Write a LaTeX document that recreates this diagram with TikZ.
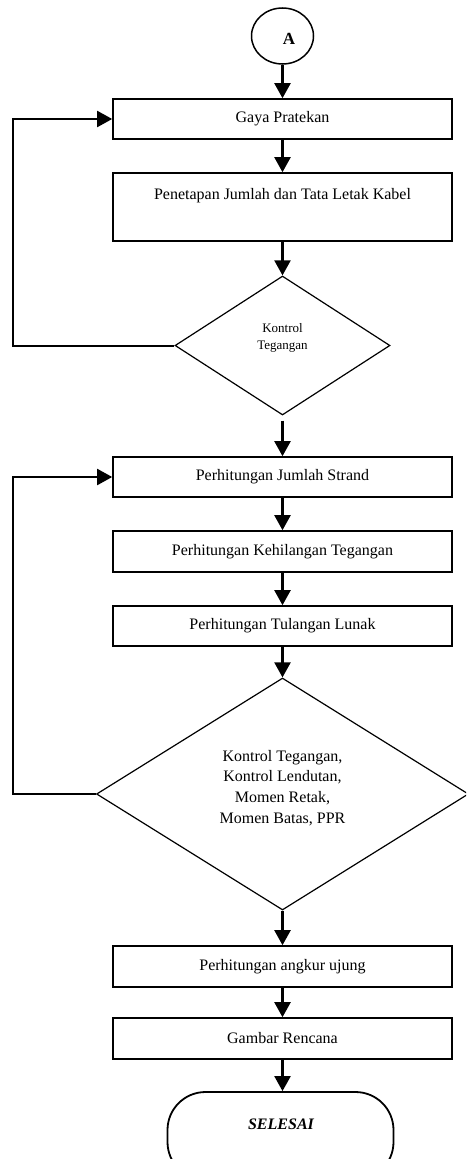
\documentclass[tikz,border=0pt]{standalone}
\usepackage{fontspec}
\setmainfont{Liberation Serif}
\usetikzlibrary{arrows.meta,shapes.geometric}
\tikzset{
  procbox/.style={draw, line width=1.6pt, rectangle, minimum width=339pt, minimum height=40pt, inner sep=0pt, font=\fontsize{16}{20}\selectfont},
  decide/.style={draw, line width=1.2pt, diamond, inner sep=0pt},
  flow/.style={line width=2.2pt, -{Triangle[length=15pt,width=16pt]}},
  loopline/.style={line width=2pt, -{Triangle[length=15pt,width=16pt]}},
  txt/.style={inner sep=0pt, align=center},
}
\begin{document}
\begin{tikzpicture}[x=1pt,y=1pt]
\useasboundingbox (0,0) rectangle (466,-1159);
\clip (0,0) rectangle (466,-1159);
% connector circle
\node[draw, line width=1.5pt, ellipse, minimum width=62pt, minimum height=56pt, inner sep=0pt] (A) at (282.5,-36) {};
\node[txt, font=\fontsize{17}{20}\selectfont\bfseries] (Atxt) at (289,-39) {A};
% boxes
\node[procbox] (gaya) at (282.5,-119) {Gaya Pratekan};
\node[procbox, minimum height=68pt] (pen) at (282.5,-207) {};
\node[txt, font=\fontsize{16}{20}\selectfont] (pentxt) at (282.5,-196) {Penetapan Jumlah dan Tata Letak Kabel};
\node[decide, minimum width=215pt, minimum height=139pt] (d1) at (282.5,-345.5) {};
\node[txt, font=\fontsize{13}{17}\selectfont] (d1txt) at (282.5,-338) {Kontrol\\Tegangan};
\node[procbox] (strand) at (282.5,-477) {Perhitungan Jumlah Strand};
\node[procbox, minimum height=41pt] (kehil) at (282.5,-551.5) {Perhitungan Kehilangan Tegangan};
\node[procbox] (tulang) at (282.5,-626) {Perhitungan Tulangan Lunak};
\node[decide, minimum width=372pt, minimum height=232pt] (d2) at (282.5,-794) {};
\node[txt, font=\fontsize{16}{20.8}\selectfont] (d2txt) at (282.5,-788) {Kontrol Tegangan,\\Kontrol Lendutan,\\Momen Retak,\\Momen Batas, PPR};
\node[procbox, minimum height=41pt] (angkur) at (282.5,-966.5) {Perhitungan angkur ujung};
\node[procbox, minimum height=41pt] (gambar) at (282.5,-1038.5) {Gambar Rencana};
\node[draw, line width=1.8pt, rectangle, rounded corners=38pt, minimum width=226pt, minimum height=88pt, inner sep=0pt] (end) at (280.5,-1136) {};
\node[txt, font=\fontsize{16}{20}\selectfont\bfseries\itshape] (endtxt) at (281,-1124) {SELESAI};
% loop coordinates
\coordinate (l1) at (13,-345.5);
\coordinate (l2) at (13,-794);
% connectors
\draw[flow] (A.south) -- (A.south |- gaya.north);
\draw[flow] (gaya.south) -- (pen.north);
\draw[flow] (pen.south) -- (d1.north);
\draw[loopline] (d1.west) -- (l1) |- (gaya.west);
\draw[flow, shorten <=5pt] (d1.south) -- (strand.north);
\draw[flow] (strand.south) -- (kehil.north);
\draw[flow] (kehil.south) -- (tulang.north);
\draw[flow] (tulang.south) -- (d2.north);
\draw[loopline] (d2.west) -- (l2) |- (strand.west);
\draw[flow] (d2.south) -- (angkur.north);
\draw[flow] (angkur.south) -- (gambar.north);
\draw[flow] (gambar.south) -- (gambar.south |- end.north);
\end{tikzpicture}
\end{document}
